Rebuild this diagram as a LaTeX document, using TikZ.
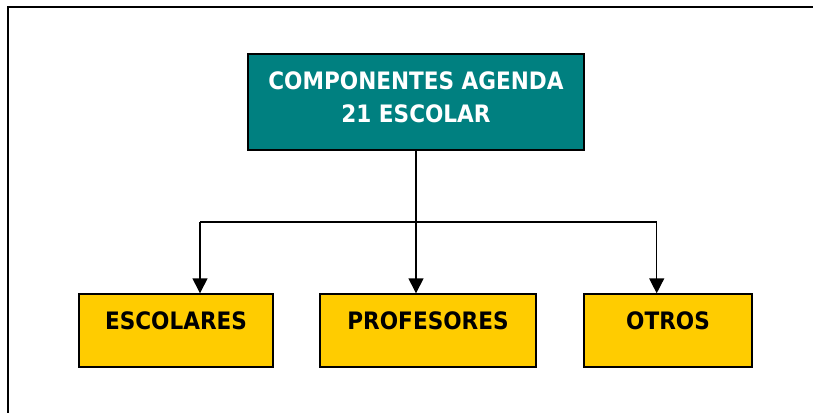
\documentclass[tikz,border=0pt]{standalone}
\usepackage{fontspec}
\newfontfamily\labfont{DejaVu Sans Condensed}
\usetikzlibrary{arrows.meta}
\definecolor{tealbox}{HTML}{008080}
\definecolor{yellowbox}{HTML}{FFCC00}
\tikzset{
  boxbase/.style={draw=black, line width=1.4pt, inner sep=0pt},
  topbox/.style={boxbase, fill=tealbox, minimum width=336pt, minimum height=96pt},
  leafbox/.style={boxbase, fill=yellowbox, minimum height=73pt},
  txt/.style={font=\labfont\bfseries\fontsize{24}{28}\selectfont, inner sep=0pt, anchor=base},
  whitetxt/.style={txt, text=white},
  conn/.style={draw=black, line width=1.4pt},
  arr/.style={conn, -{Triangle[width=15pt,length=15pt]}},
}
\begin{document}
\begin{tikzpicture}[x=1pt,y=-1pt]
\useasboundingbox (0,0) rectangle (813,412);
\clip (0,0) rectangle (813,412);
\fill[white] (0,0) rectangle (813,412);
\draw[line width=1.5pt] (8,7) rectangle (830,430);

\node[topbox] (top) at (416,102) {};
\node[whitetxt] (topa) at (416,89.3) {COMPONENTES AGENDA};
\node[whitetxt] (topb) at (416,122.7) {21 ESCOLAR};

\node[leafbox, minimum width=194pt] (esc) at (176,330.5) {};
\node[leafbox, minimum width=216pt] (pro) at (428,330.5) {};
\node[leafbox, minimum width=168pt] (otr) at (668,330.5) {};
\node[txt] (esct) at (176,329.5) {ESCOLARES};
\node[txt] (prot) at (428,329.5) {PROFESORES};
\node[txt] (otrt) at (668,329.5) {OTROS};

\coordinate (jl) at (200,222);
\coordinate (jr) at (656.7,222);
\draw[conn] (jl) -- (jr);
\draw[arr] (top.south) -- (top.south |- pro.north);
\draw[arr] (jl) -- (jl |- esc.north);
\draw[arr] (jr) -- (jr |- otr.north);
\end{tikzpicture}
\end{document}
